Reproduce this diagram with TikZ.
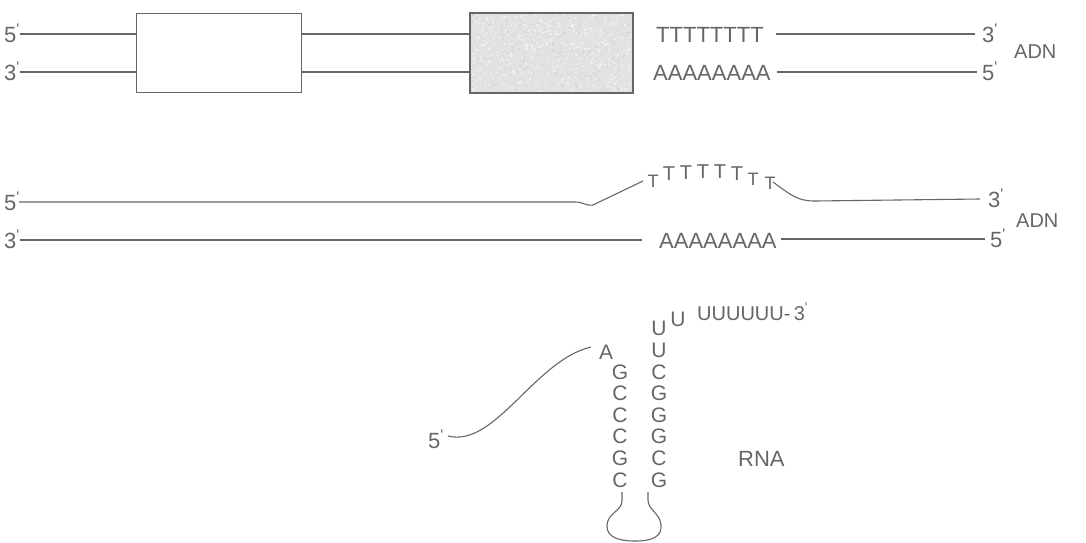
\documentclass[tikz,border=0pt]{standalone}
\usepackage{fontspec}
\setmainfont{Liberation Sans}
\newfontfamily\plainsans{Liberation Sans}
\newcommand\tick{\textsuperscript{\plainsans '}}
\definecolor{ink}{HTML}{666666}
\definecolor{boxgray}{HTML}{E2E2E2}
\begin{document}
\begin{tikzpicture}[x=1pt,y=-1pt,
  strand/.style={draw=ink, line width=1.1pt},
  lab/.style={text=ink, inner sep=0pt, anchor=base west, font=\fontsize{22}{22}\selectfont},
  tag/.style={text=ink, inner sep=0pt, anchor=base west, font=\fontsize{20}{20}\selectfont},
  nt/.style={text=ink, inner sep=0pt, anchor=base, font=\fontsize{21}{21}\selectfont},
  tsmall/.style={text=ink, inner sep=0pt, anchor=base, font=\fontsize{18}{18}\selectfont},
  tbig/.style={text=ink, inner sep=0pt, anchor=base, font=\fontsize{20}{20}\selectfont},
  gene/.style={draw=ink, line width=1.1pt, minimum height=79pt, anchor=north west, inner sep=0pt}
]
\useasboundingbox (0,0) rectangle (1086,543);

% ---------- row 1 ----------
\node[lab] (r1p5) at (4,42) {5\tick};
\node[lab] (r1p3) at (4,80) {3\tick};
\node[gene, fill=white, minimum width=165pt] (box1) at (136,13) {};
\node[gene, fill=boxgray, minimum width=162pt] (box2) at (470,13) {};
\begin{scope}
  \clip (471,14) rectangle (631,91);
  \pgfmathsetseed{11}
  \foreach \k in {1,...,350}{
    \pgfmathsetmacro\xx{471+rnd*160}
    \pgfmathsetmacro\yy{14+rnd*77}
    \fill[gray!55, opacity=0.35] (\xx,\yy) circle (0.8);
  }
  \foreach \k in {1,...,400}{
    \pgfmathsetmacro\xx{471+rnd*160}
    \pgfmathsetmacro\yy{14+rnd*77}
    \fill[white, opacity=0.75] (\xx,\yy) circle (0.9);
  }
\end{scope}
\draw[ink, line width=1.1pt] (box2.north west) rectangle (box2.south east);
\coordinate (r1a) at (20,34);
\coordinate (r1b) at (20,72);
\draw[strand] (r1a) -- (box1.west |- r1a);
\draw[strand] (r1b) -- (box1.west |- r1b);
\draw[strand] (box1.east |- r1a) -- (box2.west |- r1a);
\draw[strand] (box1.east |- r1b) -- (box2.west |- r1b);
\node[lab] (r1t) at (656,42) {TTTTTTTT};
\node[lab] (r1aa) at (653,80) {AAAAAAAA};
\node[lab] (r1e3) at (982,42) {3\tick};
\node[lab] (r1e5) at (982,80) {5\tick};
\node[tag] (adn1) at (1014,59) {ADN};
\coordinate (r1ta) at (776,34);
\coordinate (r1tb) at (975,34);
\coordinate (r1aa1) at (777,72);
\coordinate (r1ab) at (977,72);
\draw[strand] (r1ta) -- (r1tb);
\draw[strand] (r1aa1) -- (r1ab);

% ---------- row 2 ----------
\node[lab] (r2p5) at (4,210) {5\tick};
\node[lab] (r2p3) at (4,248) {3\tick};
\coordinate (r2s) at (19,202);
\coordinate (r2up) at (643,181);
\draw[strand] (r2s) -- (575,202) .. controls (584,202) and (585,206) .. (593,205) -- (r2up);
\node[tsmall] (T1) at (653,187) {T};
\node[tbig] (T2) at (669,180) {T};
\node[tbig] (T3) at (686,179) {T};
\node[tbig] (T4) at (703,178) {T};
\node[tbig] (T5) at (720,178) {T};
\node[tbig] (T6) at (737,180) {T};
\node[tsmall] (T7) at (753,185) {T};
\node[tsmall] (T8) at (770,189) {T};
\coordinate (r2dn) at (773,182);
\coordinate (r2e) at (980,199);
\draw[strand] (r2dn) .. controls (792,196) and (798,201) .. (815,201) -- (r2e);
\node[lab] (r2e3) at (988,207) {3\tick};
\coordinate (r2bs) at (20,240);
\coordinate (r2bm) at (642,240);
\draw[strand] (r2bs) -- (r2bm);
\node[lab] (r2aa) at (659,248) {AAAAAAAA};
\coordinate (r2ba) at (781,239);
\coordinate (r2bb) at (985,239);
\draw[strand] (r2ba) -- (r2bb);
\node[lab] (r2e5) at (990,247) {5\tick};
\node[tag] (adn2) at (1016,227) {ADN};

% ---------- row 3 : RNA hairpin ----------
\node[lab] (rna5) at (428,448) {5\tick};
\node[nt] (nA) at (606,359) {A};
\coordinate (c5) at (448,436);
\coordinate (cA) at (591,347);
\draw[strand] (c5) .. controls (495,448) and (535,360) .. (cA);
% left column
\node[nt] (L1) at (620,379) {G};
\node[nt] (L2) at (620,400) {C};
\node[nt] (L3) at (620,422) {C};
\node[nt] (L4) at (620,443) {C};
\node[nt] (L5) at (620,465) {G};
\node[nt] (L6) at (620,487) {C};
% right column
\node[nt] (R0) at (659,335) {U};
\node[nt] (Rm) at (659,357) {U};
\node[nt] (R1) at (659,379) {C};
\node[nt] (R2) at (659,400) {G};
\node[nt] (R3) at (659,422) {G};
\node[nt] (R4) at (659,443) {G};
\node[nt] (R5) at (659,465) {C};
\node[nt] (R6) at (659,487) {G};
\node[nt] (U2) at (678,326) {U};
\node[tag] (U3) at (697,320) {UUUUUU-\,3\tick};
% loop
\coordinate (lpL) at (622,492);
\coordinate (lpR) at (648,492);
\draw[strand] (lpL) -- (622,501) .. controls (622,511) and (607,513) .. (607,526)
  .. controls (607,537) and (618,541) .. (635,541)
  .. controls (652,541) and (662,537) .. (661,525)
  .. controls (660,513) and (648,510) .. (648,500) -- (lpR);
\node[lab] (rnalab) at (738,466) {RNA};
\end{tikzpicture}
\end{document}
